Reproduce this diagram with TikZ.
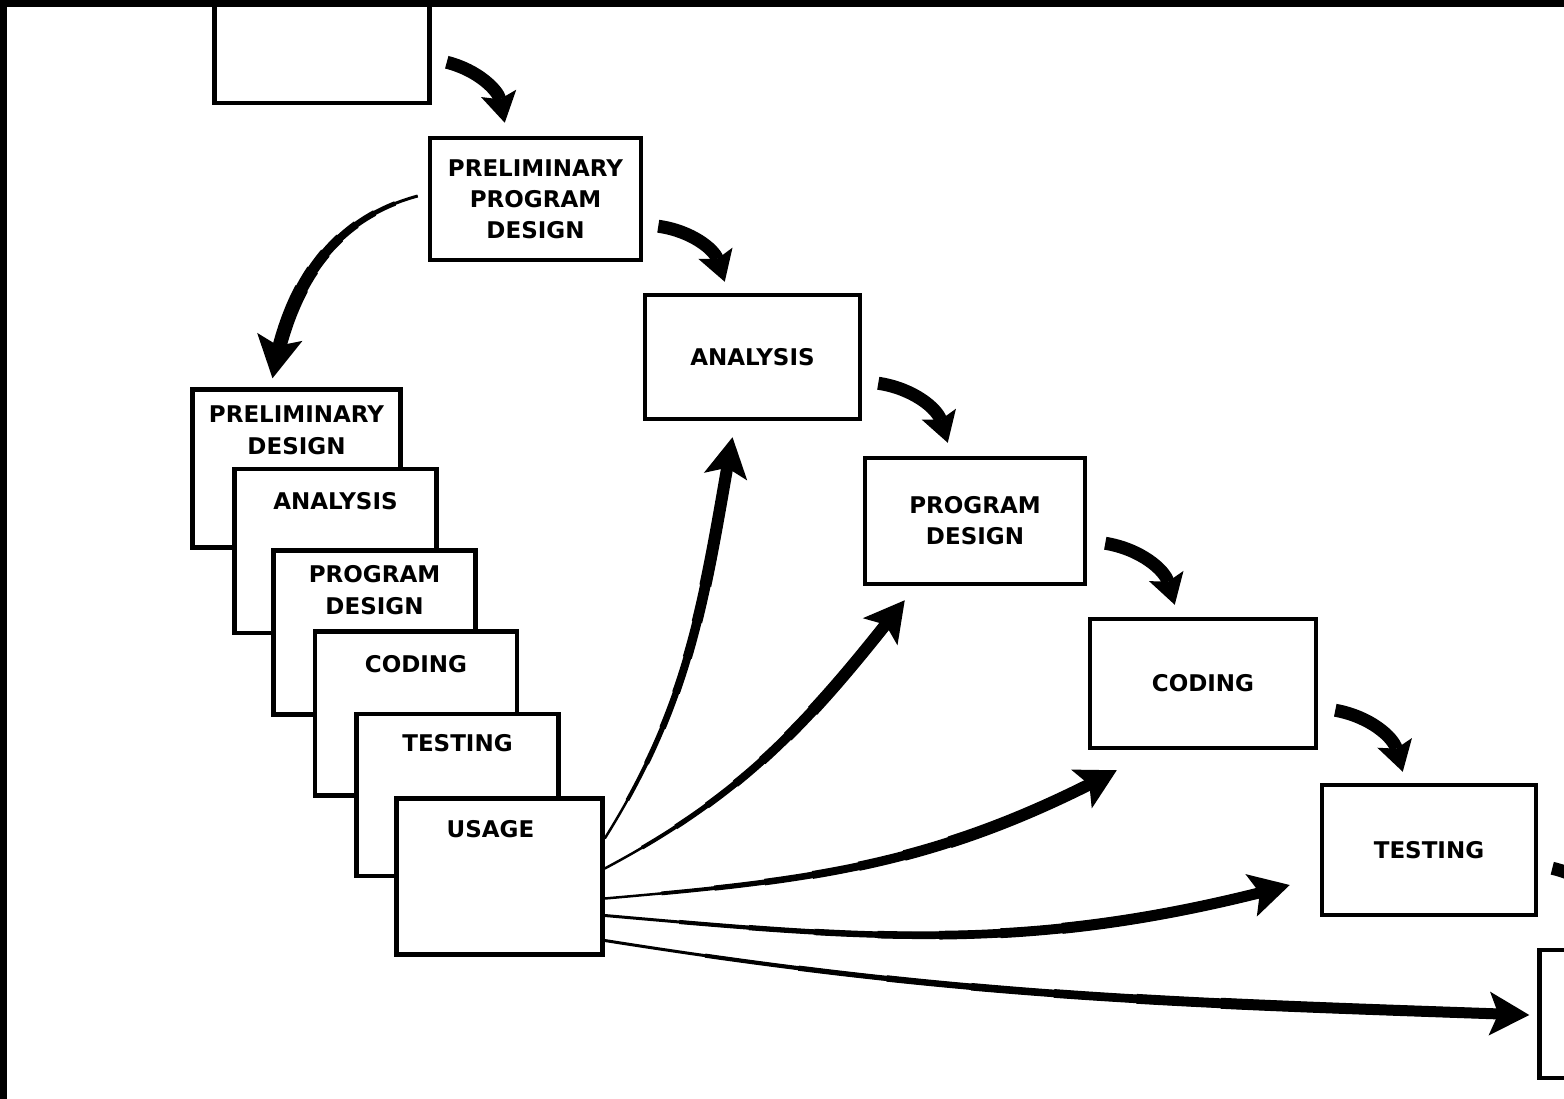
\documentclass[tikz,border=0pt]{standalone}
\usepackage{fontspec}
\setmainfont{DejaVu Sans}
\usetikzlibrary{arrows.meta, positioning, calc}

% tapered arrow: tail, control, control, head, tip style, start width, end width, end of body (t)
\newcommand{\taper}[8]{%
\draw[#5, line width=0.5pt] (#1) .. controls (#2) and (#3) .. (#4);
\coordinate (la) at ($(#1)!#8!(#2)$);
\coordinate (lb) at ($(#2)!#8!(#3)$);
\coordinate (lc) at ($(#3)!#8!(#4)$);
\coordinate (ld) at ($(la)!#8!(lb)$);
\coordinate (le) at ($(lb)!#8!(lc)$);
\coordinate (lf) at ($(ld)!#8!(le)$);
\foreach \s in {0,0.1,0.2,0.3,0.4,0.5,0.6,0.7}{
\pgfmathsetmacro{\lw}{#6+(#7-#6)*\s/0.7}
\coordinate (qa) at ($(#1)!\s!(la)$);
\coordinate (qb) at ($(la)!\s!(ld)$);
\coordinate (qc) at ($(ld)!\s!(lf)$);
\coordinate (qd) at ($(qa)!\s!(qb)$);
\coordinate (qe) at ($(qb)!\s!(qc)$);
\coordinate (qf) at ($(qd)!\s!(qe)$);
\draw[line width=\lw pt] (qf) .. controls (qe) and (qc) .. (lf);
}}

\begin{document}
\begin{tikzpicture}[x=1pt, y=1pt,
phase/.style={draw, line width=4.5pt, fill=white, minimum width=215pt, minimum height=124pt, inner sep=0pt, align=center, font=\bfseries\fontsize{23pt}{31pt}\selectfont},
stackbox/.style={draw, line width=4.5pt, fill=white, minimum width=202pt, minimum height=162pt, inner sep=0pt},
stacktext/.style={inner sep=0pt, align=center, font=\bfseries\fontsize{23pt}{32pt}\selectfont},
steparrow/.style={line width=13pt, -{Stealth[length=30pt, width=36pt, inset=6pt, line width=0pt]}},
bigtip/.style={-{Stealth[length=42pt, width=46pt, inset=9pt, line width=0pt]}},
fantip/.style={-{Stealth[length=40pt, width=44pt, inset=9pt, line width=0pt]}}]

\useasboundingbox (0,0) rectangle (1564,-1099);
\clip (0,0) rectangle (1564,-1099);
\fill[white] (0,0) rectangle (1564,-1099);

%%%%%%%%%%   waterfall
\node[phase, minimum height=126pt] (init) at (322,-40) {};
\node[phase, minimum width=211pt, minimum height=122pt] (ppd) at (535.5,-199) {PRELIMINARY\\PROGRAM\\DESIGN};
\node[phase] (ana) at (752.5,-357) {ANALYSIS};
\node[phase, minimum width=220pt, minimum height=126pt] (pd) at (975,-521) {PROGRAM\\DESIGN};
\node[phase, minimum width=226pt, minimum height=129pt] (cod) at (1203,-683.5) {CODING};
\node[phase, minimum width=214pt, minimum height=130pt] (tst) at (1429,-850) {TESTING};
\node[phase, minimum height=128pt] (usg) at (1647,-1014) {};

\draw[steparrow] ([xshift=15pt,yshift=43pt]init.south east) to[bend left=32] ([xshift=77pt,yshift=13pt]ppd.north west);
\draw[steparrow] ([xshift=15pt,yshift=36pt]ppd.south east) to[bend left=32] ([xshift=82pt,yshift=11pt]ana.north west);
\draw[steparrow] ([xshift=16pt,yshift=38pt]ana.south east) to[bend left=32] ([xshift=85pt,yshift=13pt]pd.north west);
\draw[steparrow] ([xshift=18pt,yshift=43pt]pd.south east) to[bend left=32] ([xshift=87pt,yshift=12pt]cod.north west);
\draw[steparrow] ([xshift=17pt,yshift=40pt]cod.south east) to[bend left=32] ([xshift=83pt,yshift=11pt]tst.north west);
\draw[steparrow] ([xshift=14pt,yshift=49pt]tst.south east) to[bend left=32] ([xshift=82pt,yshift=12pt]usg.north west);

%%%%%%%%%%   stacked pass
\node[stackbox, minimum width=208pt, minimum height=158pt] (s1) at (296.5,-468.5) {};
\node[stacktext, below=18pt of s1.north] (s1t) {PRELIMINARY\\DESIGN};
\node[stackbox, minimum height=164pt] (s2) at (335.5,-551) {};
\node[stacktext, below=25pt of s2.north] (s2t) {ANALYSIS};
\node[stackbox, minimum height=164pt] (s3) at (374.5,-632.5) {};
\node[stacktext, below=17pt of s3.north] (s3t) {PROGRAM\\DESIGN};
\node[stackbox, minimum height=164pt] (s4) at (416,-713.5) {};
\node[stacktext, below=26pt of s4.north] (s4t) {CODING};
\node[stackbox] (s5) at (457.5,-795) {};
\node[stacktext, below=22pt of s5.north] (s5t) {TESTING};
\node[stackbox, minimum width=206pt, minimum height=156pt] (s6) at (499.5,-876.5) {};
\node[stacktext, below=24pt of s6.north, xshift=-9pt] (s6t) {USAGE};

% back to the stack
\coordinate (bt) at ([xshift=-10pt,yshift=3pt]ppd.west);
\coordinate (bh) at ([xshift=-24pt,yshift=9pt]s1.north);
\coordinate (b1) at ($(bt)+(195:91)$);
\coordinate (b2) at ($(bh)+(80:91)$);
\taper{bt}{b1}{b2}{bh}{bigtip}{3}{14}{0.9}

%%%%%%%%%%   fan back to the waterfall
\coordinate (f1t) at ([yshift=38pt]s6.east);
\coordinate (f1h) at ([xshift=-20pt,yshift=-16pt]ana.south);
\coordinate (f1a) at ($(f1t)+(58:164)$);
\coordinate (f1b) at ($(f1h)+(260:164)$);
\taper{f1t}{f1a}{f1b}{f1h}{fantip}{2.5}{12}{0.94}

\coordinate (f2t) at ([yshift=8pt]s6.east);
\coordinate (f2h) at ([xshift=42pt,yshift=-14pt]pd.south west);
\coordinate (f2a) at ($(f2t)+(28:157)$);
\coordinate (f2b) at ($(f2h)+(232:157)$);
\taper{f2t}{f2a}{f2b}{f2h}{fantip}{2.5}{12}{0.94}

\coordinate (f3t) at ([yshift=-22pt]s6.east);
\coordinate (f3h) at ([xshift=29pt,yshift=-20pt]cod.south west);
\coordinate (f3a) at ($(f3t)+(5:206)$);
\coordinate (f3b) at ($(f3h)+(208:206)$);
\taper{f3t}{f3a}{f3b}{f3h}{fantip}{2.5}{12}{0.955}

\coordinate (f4t) at ([yshift=-39pt]s6.east);
\coordinate (f4h) at ([xshift=-30pt,yshift=-35pt]tst.west);
\coordinate (f4a) at ($(f4t)+(-5:268)$);
\coordinate (f4b) at ($(f4h)+(195:268)$);
\taper{f4t}{f4a}{f4b}{f4h}{fantip}{3}{11}{0.965}

\coordinate (f5t) at ([yshift=-64pt]s6.east);
\coordinate (f5h) at ([xshift=-8pt,yshift=-1pt]usg.west);
\coordinate (f5a) at ($(f5t)+(-9:362)$);
\coordinate (f5b) at ($(f5h)+(178:362)$);
\taper{f5t}{f5a}{f5b}{f5h}{fantip}{3}{11}{0.973}

% scan border
\fill[black] (0,0) rectangle (1564,-7);
\fill[black] (0,0) rectangle (7,-1099);
\end{tikzpicture}
\end{document}
